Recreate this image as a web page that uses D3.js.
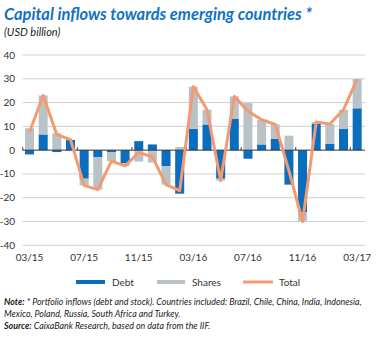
<!DOCTYPE html>
<html><head><meta charset="utf-8">
<script src="https://cdn.jsdelivr.net/npm/d3@7"></script>
<style>body{margin:0;background:#fff}svg{display:block}</style>
</head><body>
<svg id="c" width="379" height="338"></svg>
<script>
const months = ["03/15","04/15","05/15","06/15","07/15","08/15","09/15","10/15","11/15","12/15","01/16","02/16","03/16","04/16","05/16","06/16","07/16","08/16","09/16","10/16","11/16","12/16","01/17","02/17","03/17"];
const debt   = [-1.8, 6.6, -0.8, 4.3, -12, -2.9, -0.8, -5.4, 3.8, 2.4, -6.8, -18.3, 9, 10.8, -12, 13.1, -3.6, 2.4, 4.8, -14.5, -26, 11, 2.7, 9, 17.6];
const shares = [9.2, 16.4, 7.1, 0, -2.8, -13.7, -3.8, -1.2, -4.8, -5.2, -7.7, 1.3, 17.7, 6.2, -0.8, 9.5, 19.8, 10.3, 6, 6.1, -4, 0.8, 8.3, 8, 12.3];
const total  = [7.6, 23, 6.5, 4.4, -14.8, -16.6, -4.6, -6.6, -1, -2.8, -14.5, -17, 26.7, 17, -12.8, 22.6, 16.4, 12.8, 10.8, -8.6, -30, 11.8, 11, 17, 29.9];
const yTicks = [-40,-30,-20,-10,0,10,20,30,40];
const xLabels = ["03/15","07/15","11/15","03/16","07/16","11/16","03/17"];

const colors = {debt:"#0b6dbd", shares:"#b9c3c7", total:"#f39a72"};
const svg = d3.select("#c");
const font = "Lato, 'Open Sans', sans-serif";

// shrink a text's font so that its natural width equals target
function fit(sel, target, base) {
  const w = sel.node().getComputedTextLength();
  if (w > 0) sel.attr("font-size", base * target / w);
}

const x = d3.scaleBand().domain(months).range([22.7, 364]).paddingInner(0.34).paddingOuter(0.17);
const y = d3.scaleLinear().domain([-40, 40]).range([245.3, 55]);

// title
const title = svg.append("text").attr("x",4).attr("y",20).attr("font-family",font).attr("font-size",15)
  .attr("font-weight","bold").attr("font-style","italic").attr("fill","#1172c4")
  .text("Capital inflows towards emerging countries *");
fit(title, 308, 15);
svg.append("text").attr("x",4).attr("y",36).attr("font-family",font).attr("font-size",11)
  .attr("font-style","italic").attr("fill","#222").text("(USD billion)");

// grid
const gAxis = svg.append("g");
gAxis.selectAll("line.grid").data(yTicks.filter(d=>d!==0)).join("line")
  .attr("x1",22.7).attr("x2",365).attr("y1",d=>y(d)).attr("y2",d=>y(d))
  .attr("stroke","#d0d0d0").attr("stroke-width",1);
gAxis.selectAll("text.yl").data(yTicks).join("text")
  .attr("x",15).attr("y",d=>y(d)+3.5).attr("text-anchor","end")
  .attr("font-family",font).attr("font-size",10).attr("fill","#333").text(d=>d);

// bars
const rows = months.map((m,i)=>({m, debt:debt[i], shares:shares[i]}));
const stack = d3.stack().keys(["debt","shares"]).offset(d3.stackOffsetDiverging)(rows);
svg.append("g").selectAll("g").data(stack).join("g").attr("fill",d=>colors[d.key])
  .selectAll("rect").data(d=>d).join("rect")
  .attr("x",d=>x(d.data.m)).attr("width",x.bandwidth())
  .attr("y",d=>y(Math.max(d[0],d[1]))).attr("height",d=>Math.abs(y(d[0])-y(d[1])));

// zero line + ticks
svg.append("line").attr("x1",22.7).attr("x2",365).attr("y1",y(0)).attr("y2",y(0))
  .attr("stroke","#333").attr("stroke-width",1);
const tickIdx = months.map((m,i)=>i).filter(i=>i%4===0);
svg.append("g").selectAll("line").data(tickIdx).join("line")
  .attr("x1",i=>x(months[i]) - x.step()*x.paddingInner()/2).attr("x2",i=>x(months[i]) - x.step()*x.paddingInner()/2)
  .attr("y1",y(0)-3).attr("y2",y(0)).attr("stroke","#333").attr("stroke-width",1);

// total line
svg.append("path").datum(total)
  .attr("d", d3.line().x((d,i)=>x(months[i])+x.bandwidth()/2).y(d=>y(d)))
  .attr("fill","none").attr("stroke",colors.total).attr("stroke-width",3).attr("stroke-linejoin","round");

// x labels
svg.append("g").selectAll("text").data(xLabels).join("text")
  .attr("x",d=>x(d)+x.bandwidth()/2).attr("y",261).attr("text-anchor","middle")
  .attr("font-family",font).attr("font-size",10).attr("fill","#333").text(d=>d);

// legend
const legend = [{k:"debt",t:"Debt",x1:76,x2:105,tx:112,w:4},{k:"shares",t:"Shares",x1:157,x2:185,tx:192,w:4},{k:"total",t:"Total",x1:243,x2:273,tx:279,w:3}];
const lg = svg.append("g").selectAll("g").data(legend).join("g");
lg.append("line").attr("x1",d=>d.x1).attr("x2",d=>d.x2).attr("y1",282).attr("y2",282)
  .attr("stroke",d=>colors[d.k]).attr("stroke-width",d=>d.w);
lg.append("text").attr("x",d=>d.tx).attr("y",285.5).attr("font-family",font).attr("font-size",10)
  .attr("fill","#333").text(d=>d.t);

// notes
const notes = svg.append("g").attr("font-family",font).attr("font-style","italic").attr("fill","#222");
const n1 = notes.append("text").attr("x",4).attr("y",305).attr("font-size",9.5);
n1.append("tspan").attr("font-weight","bold").text("Note:");
n1.append("tspan").text(" * Portfolio inflows (debt and stock). Countries included: Brazil, Chile, China, India, Indonesia,");
fit(n1, 358, 9.5);
const fs = +n1.attr("font-size");
notes.append("text").attr("x",4).attr("y",317).attr("font-size",fs)
  .text("Mexico, Poland, Russia, South Africa and Turkey.");
const n3 = notes.append("text").attr("x",4).attr("y",329).attr("font-size",fs);
n3.append("tspan").attr("font-weight","bold").text("Source:");
n3.append("tspan").text(" CaixaBank Research, based on data from the IIF.");
</script>
</body></html>
